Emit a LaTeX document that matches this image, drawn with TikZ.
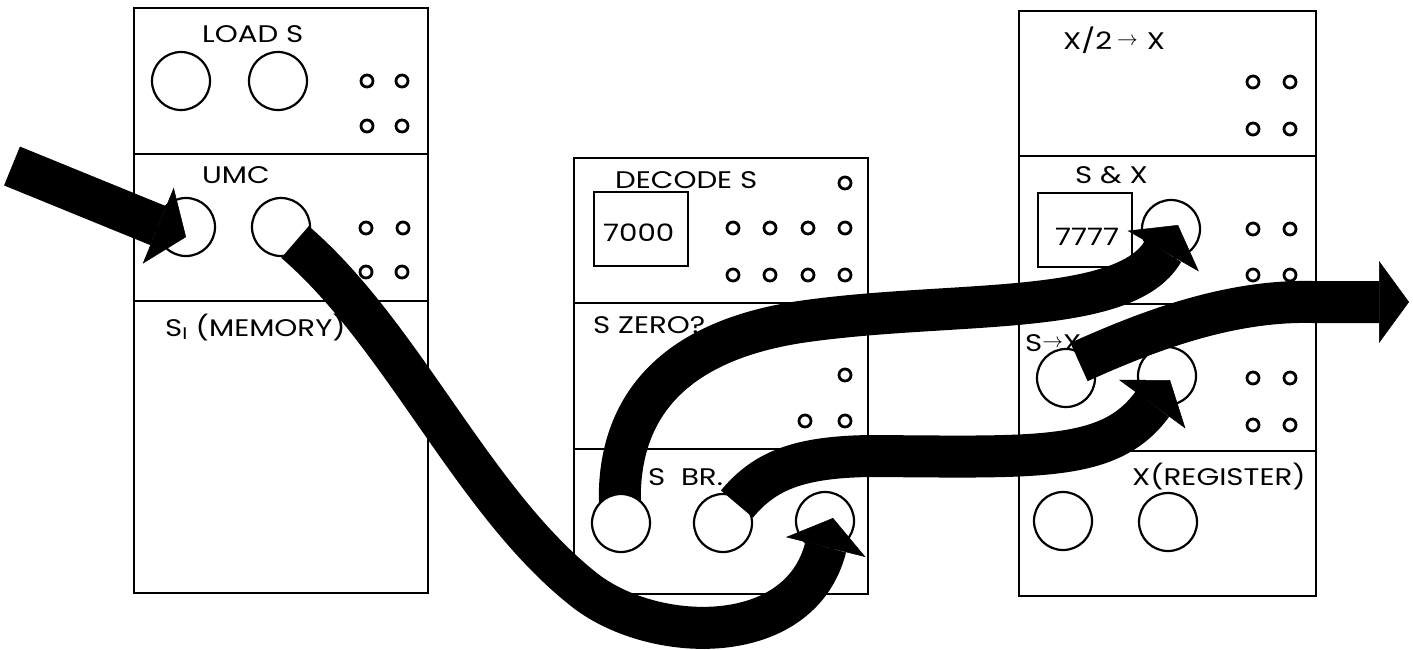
\documentclass[tikz,border=0pt]{standalone}
\usepackage{fontspec}
\setmainfont{Poppins}[FakeStretch=1.22]
\usetikzlibrary{arrows.meta,calc}
\pgfdeclarelayer{fg}
\pgfsetlayers{main,fg}
\newcommand{\smallarr}{\raisebox{3.5pt}{\fontsize{20}{20}\selectfont$\rightarrow$}}
\begin{document}
\begin{tikzpicture}[x=1pt,y=-1pt,
  sect/.style={draw, line width=2.4pt, fill=white, inner sep=0, anchor=north west},
  jack/.style={circle, draw, line width=2.2pt, fill=white, minimum size=58pt, inner sep=0},
  pin/.style={circle, draw, line width=2.8pt, minimum size=12pt, inner sep=0},
  valbox/.style={draw, line width=2.2pt, inner sep=0, minimum width=94pt, minimum height=74pt},
  lbl/.style={font=\fontsize{24}{26}\selectfont, inner sep=0, anchor=base west},
  cable/.style={line width=42pt, line cap=butt, -{Triangle[width=82pt,length=30pt,line width=0.5pt]}},
]
\useasboundingbox (0,0) rectangle (1413,649);

% ---- left unit ----
\node[sect, minimum width=294pt, minimum height=146pt] (loads) at (133,7) {};
\node[sect, minimum width=294pt, minimum height=147pt] (umc) at (133,153) {};
\node[sect, minimum width=294pt, minimum height=292pt] (mem) at (133,300) {};
\node[lbl] (tloads) at (202,42) {LOAD S};
\node[lbl] (tumc) at (202,183) {UMC};
\node[lbl] (tmem) at (165,336) {S\textsubscript{I} (MEMORY)};
\node[jack] (ldA) at (181,81) {};
\node[jack] (ldB) at (278,81) {};
\node[jack] (umcL) at (186,227) {};
\node[jack] (umcR) at (281,227) {};

% ---- middle unit ----
\node[sect, minimum width=294pt, minimum height=145pt] (dec) at (573,157) {};
\node[sect, minimum width=294pt, minimum height=146pt] (zero) at (573,302) {};
\node[sect, minimum width=294pt, minimum height=145pt] (sbr) at (573,448) {};
\node[lbl] (tdec) at (615,188) {DECODE S};
\node[valbox] (b7000) at (641,229) {};
\node[lbl] (t7000) at (603,241) {7000};
\node[lbl] (tzero) at (593,333) {S ZERO?};
\node[lbl] (tsbr) at (648,485) {S\ \ BR.};
\begin{pgfonlayer}{fg}
\node[jack] (sbr1) at (621,523) {};
\end{pgfonlayer}
\node[jack] (sbr2) at (723,523) {};
\node[jack] (sbr3) at (825,521) {};

% ---- right unit ----
\node[sect, minimum width=297pt, minimum height=145pt] (half) at (1018,10) {};
\node[sect, minimum width=297pt, minimum height=148pt] (sandx) at (1018,155) {};
\node[sect, minimum width=297pt, minimum height=147pt] (stox) at (1018,303) {};
\node[sect, minimum width=297pt, minimum height=145pt] (xreg) at (1018,450) {};
\node[lbl] (thalf) at (1063,49) {X/2\hspace{5pt}\smallarr\hspace{9pt}X};
\node[lbl] (tsand) at (1075,183) {S \& X};
\node[valbox] (b7777) at (1085,230) {};
\node[lbl] (t7777) at (1055,245) {7777};
\node[lbl] (tstox) at (1025,351) {S\smallarr X};
\node[lbl] (txreg) at (1132,485) {X(REGISTER)};
\node[jack] (sx) at (1171,229) {};
\node[jack] (sxS) at (1066,378) {};
\node[jack] (sxa) at (1167,376) {};
\node[jack] (xr1) at (1063,521) {};
\node[jack] (xr2) at (1168,522) {};

% ---- small pins ----
\foreach \px/\py [count=\i] in {367/81,402/81,367/126,402/126,
  366/228,403/228,366/272,402/272,
  845/183,733/228,770/228,808/228,845/228,733/275,770/275,808/275,845/275,
  845/375,805/421,845/421,
  1253/82,1290/82,1253/129,1290/129,
  1253/229,1290/229,1253/275,1290/275,
  1253/378,1290/378,1253/425,1290/425}
  \node[pin] (pin\i) at (\px,\py) {};

% ---- cables ----
\coordinate (inflow) at (12,166);
\coordinate (outflow) at (1409,302);
\coordinate (c2s) at ($(umcR)+(14,15)$);
\coordinate (c2e) at ($(sbr3)+(8,-3)$);
\coordinate (c3e) at ($(sx)+(7,-4)$);
\coordinate (c4s) at ($(sbr2)+(14,-19)$);
\coordinate (c4e) at ($(sxa)+(3,4)$);
\coordinate (c5s) at ($(sxS)+(13,-16)$);
\coordinate (c1e) at ($(umcL)+(0,10)$);

\draw[cable] (inflow) -- (c1e);
\draw[cable] (c2s) .. controls (402,334) and (472,500) .. (582,588)
                   .. controls (650,644) and (800,650) .. (c2e);
\draw[cable] (sbr1.center) .. controls (612,430) and (650,345) .. (800,322)
                   .. controls (950,300) and (1125,318) .. (c3e);
\draw[cable] (c4s) .. controls (765,470) and (800,457) .. (870,456)
                   .. controls (1040,457) and (1110,462) .. (c4e);
\draw[cable] (c5s) .. controls (1150,330) and (1230,300) .. (1313,302) -- (outflow);
\end{tikzpicture}
\end{document}
